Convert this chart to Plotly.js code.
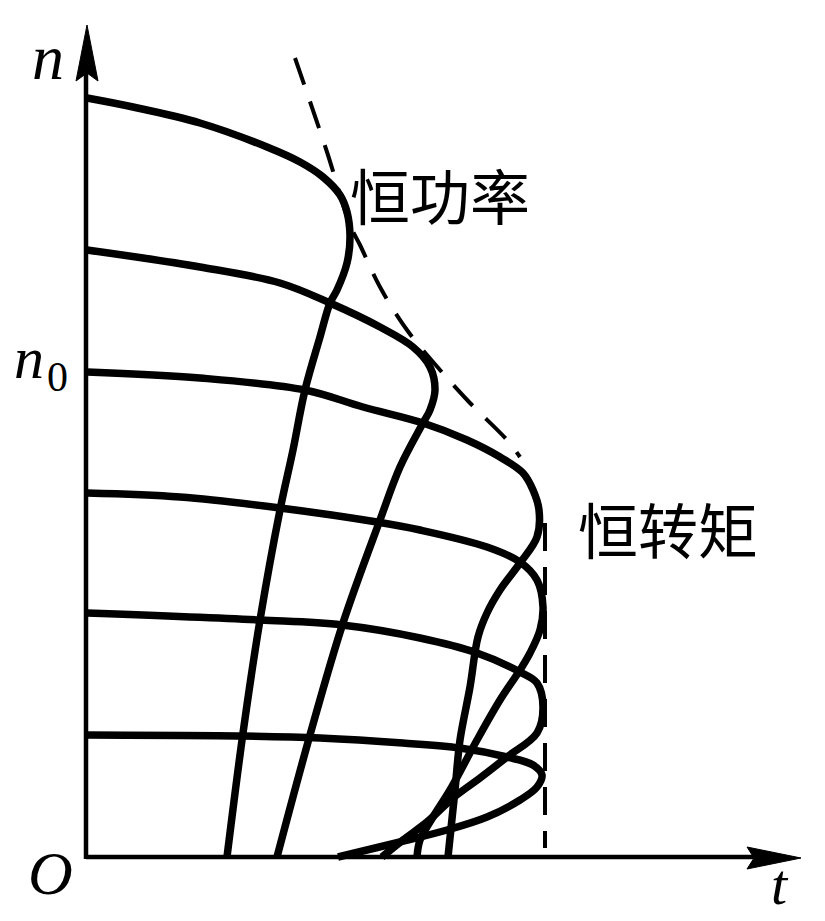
<!DOCTYPE html>
<html>
<head>
<meta charset="utf-8">
<script src="https://cdn.plot.ly/plotly-3.0.1.min.js"></script>
<style>
  html, body { margin: 0; padding: 0; background: #ffffff; }
  #chart { width: 825px; height: 921px; }
</style>
</head>
<body>
<div id="chart"></div>
<script>
// Mechanical characteristics n = f(t) at six supply frequencies
const curve1T = [1, 47, 114, 181, 214, 237, 254, 261, 264, 261, 251, 244, 234, 219, 207, 194, 174, 157, 141];
const curve1N = [759, 750, 734, 710, 695, 680, 662, 645, 620, 594, 567, 554, 520, 467, 407, 347, 237, 124, 0];

const curve2T = [1, 114, 194, 244, 294, 327, 344, 349, 344, 337, 314, 294, 257, 224, 191];
const curve2N = [607, 590, 574, 554, 530, 510, 490, 467, 447, 434, 390, 337, 234, 122, 0];

const curve3T = [1, 114, 219, 277, 337, 381, 414, 437, 447, 453, 451, 434, 414, 401, 392, 384, 374, 369, 362];
const curve3N = [485, 479, 467, 450, 434, 417, 400, 384, 367, 347, 320, 294, 267, 244, 220, 170, 117, 67, 0];

const curve4T = [1, 94, 194, 291, 334, 401, 434, 451, 457, 454, 444, 434, 414, 391, 364, 347, 334, 331];
const curve4N = [364, 360, 349, 335, 327, 310, 295, 277, 250, 227, 204, 187, 157, 117, 67, 40, 17, 0];

const curve5T = [1, 174, 256, 334, 391, 434, 451, 457, 451, 421, 394, 367, 341, 317, 296];
const curve5N = [244, 237, 232, 219, 204, 185, 174, 150, 124, 100, 79, 59, 35, 17, 0];

const curve6T = [1, 157, 234, 317, 374, 421, 447, 456, 451, 434, 401, 361, 314, 252];
const curve6N = [122, 121, 119, 114, 109, 100, 92, 82, 70, 57, 40, 27, 15, 0];

// Boundaries: constant power (dashed curve) and constant torque (dashed vertical)
const powerT = [209, 241, 264, 274, 294, 321, 354, 384, 421, 434];
const powerN = [799, 705, 632, 612, 570, 527, 487, 454, 417, 400];
const torqueT = [459, 459];
const torqueN = [334, 9];

const labels = { power: '恒功率', torque: '恒转矩' };

const curves = [[curve1T, curve1N], [curve2T, curve2N], [curve3T, curve3N],
                [curve4T, curve4N], [curve5T, curve5N], [curve6T, curve6N]];

const traces = curves.map(([t, n]) => ({
  x: t, y: n, type: 'scatter', mode: 'lines',
  line: { color: '#000', width: 7.5, shape: 'spline', smoothing: 1 },
  hoverinfo: 'skip', showlegend: false
}));
traces.push({
  x: powerT, y: powerN, type: 'scatter', mode: 'lines',
  line: { color: '#000', width: 4, dash: '28px,18px', shape: 'spline', smoothing: 1 },
  hoverinfo: 'skip', showlegend: false
});
traces.push({
  x: torqueT, y: torqueN, type: 'scatter', mode: 'lines',
  line: { color: '#000', width: 4, dash: '28px,16px' },
  hoverinfo: 'skip', showlegend: false
});

const serif = 'Liberation Serif, Times New Roman, serif';
const cjk = 'Noto Sans CJK SC, sans-serif';

const layout = {
  width: 825, height: 921,
  margin: { l: 0, r: 0, t: 0, b: 0 },
  paper_bgcolor: '#fff', plot_bgcolor: '#fff',
  xaxis: { range: [-86, 739], visible: false, fixedrange: true },
  yaxis: { range: [-64, 857], visible: false, fixedrange: true },
  shapes: [
    { type: 'line', xref: 'x', yref: 'y', x0: 0, y0: 0, x1: 690, y1: 0, line: { color: '#000', width: 4.5 } },
    { type: 'line', xref: 'x', yref: 'y', x0: 0, y0: -2, x1: 0, y1: 800, line: { color: '#000', width: 4.5 } },
    { type: 'path', xref: 'x', yref: 'y', path: 'M 715 -1 L 661 10 L 668 -1 L 661 -12 Z',
      fillcolor: '#000', line: { color: '#000', width: 1 } },
    { type: 'path', xref: 'x', yref: 'y', path: 'M 1 832 L -10 776 L 1 784 L 12 776 Z',
      fillcolor: '#000', line: { color: '#000', width: 1 } }
  ],
  annotations: [
    { x: -38, y: 800, xref: 'x', yref: 'y', text: '<i>n</i>', showarrow: false,
      font: { family: serif, size: 64, color: '#000' }, xanchor: 'center', yanchor: 'middle' },
    { x: -57, y: 499, xref: 'x', yref: 'y', text: '<i>n</i>', showarrow: false,
      font: { family: serif, size: 60, color: '#000' }, xanchor: 'center', yanchor: 'middle' },
    { x: -29, y: 480, xref: 'x', yref: 'y', text: '0', showarrow: false,
      font: { family: serif, size: 42, color: '#000' }, xanchor: 'center', yanchor: 'middle' },
    { x: -36, y: -16, xref: 'x', yref: 'y', text: '<i>O</i>', showarrow: false,
      font: { family: serif, size: 62, color: '#000' }, xanchor: 'center', yanchor: 'middle' },
    { x: 694, y: -27, xref: 'x', yref: 'y', text: '<i>t</i>', showarrow: false,
      font: { family: serif, size: 58, color: '#000' }, xanchor: 'center', yanchor: 'middle' },
    { x: 354, y: 664, xref: 'x', yref: 'y', text: labels.power, showarrow: false,
      font: { family: cjk, size: 60, color: '#000' }, xanchor: 'center', yanchor: 'middle' },
    { x: 582, y: 330, xref: 'x', yref: 'y', text: labels.torque, showarrow: false,
      font: { family: cjk, size: 60, color: '#000' }, xanchor: 'center', yanchor: 'middle' }
  ]
};

Plotly.newPlot('chart', traces, layout, { staticPlot: true, displayModeBar: false });
</script>
</body>
</html>
